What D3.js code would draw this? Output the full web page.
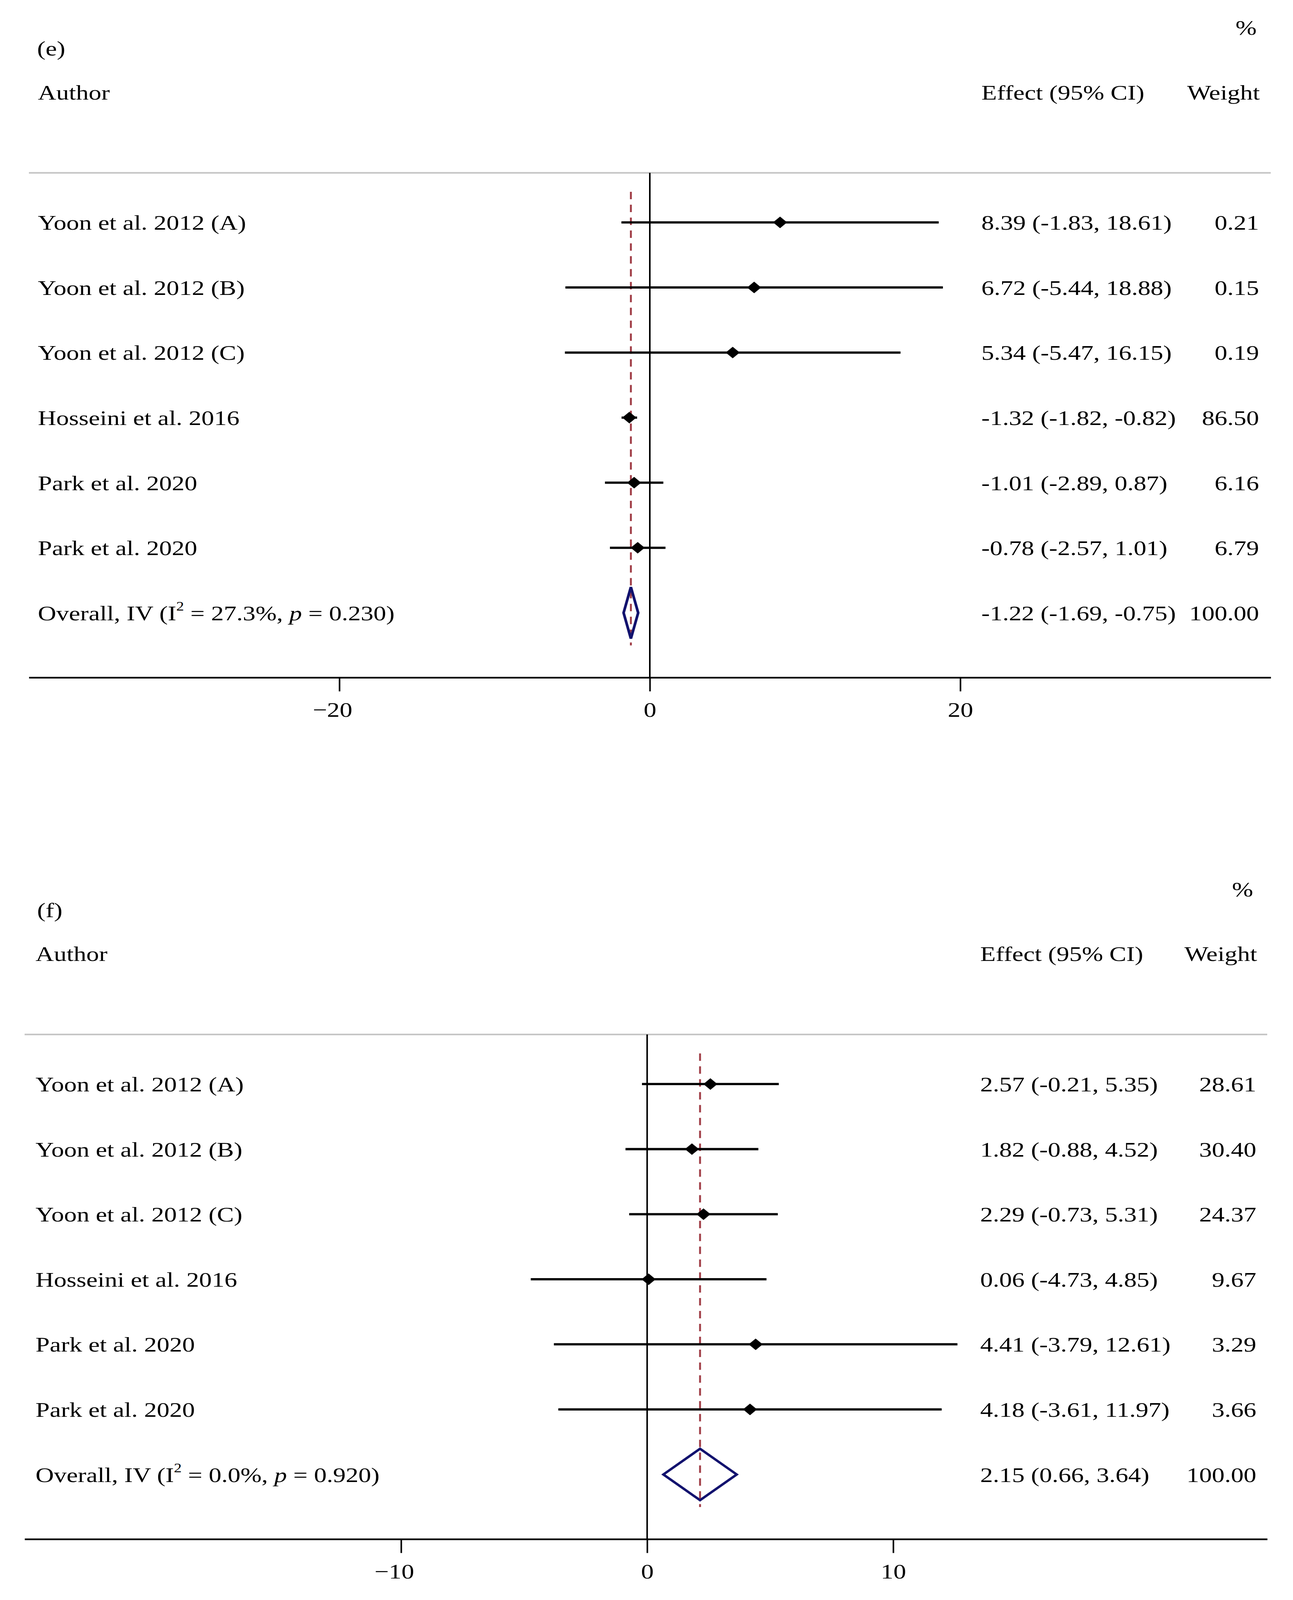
<!DOCTYPE html>
<html>
<head>
<meta charset="utf-8">
<script src="https://cdn.jsdelivr.net/npm/d3@7"></script>
<style>
  html, body { margin: 0; padding: 0; background: #fff; overflow: hidden; }
  svg { display: block; }
  text { font-family: "Liberation Serif", "Times New Roman", serif; fill: #000; }
</style>
</head>
<body>
<svg id="chart"></svg>
<script>
// ---------------- DATA ----------------
const authors = ["Yoon et al. 2012 (A)", "Yoon et al. 2012 (B)", "Yoon et al. 2012 (C)",
                 "Hosseini et al. 2016", "Park et al. 2020", "Park et al. 2020"];

// Panel (e)
const effectE = [8.39, 6.72, 5.34, -1.32, -1.01, -0.78];
const lowerE  = [-1.83, -5.44, -5.47, -1.82, -2.89, -2.57];
const upperE  = [18.61, 18.88, 16.15, -0.82, 0.87, 1.01];
const weightE = [0.21, 0.15, 0.19, 86.50, 6.16, 6.79];
const overallE = [-1.22, -1.69, -0.75];       // estimate, lower, upper
const overallWeightE = 100.00;
const heteroE = ["27.3%", "0.230"];           // I², p
const ticksE = [-20, 0, 20];

// Panel (f)
const effectF = [2.57, 1.82, 2.29, 0.06, 4.41, 4.18];
const lowerF  = [-0.21, -0.88, -0.73, -4.73, -3.79, -3.61];
const upperF  = [5.35, 4.52, 5.31, 4.85, 12.61, 11.97];
const weightF = [28.61, 30.40, 24.37, 9.67, 3.29, 3.66];
const overallF = [2.15, 0.66, 3.64];
const overallWeightF = 100.00;
const heteroF = ["0.0%", "0.920"];
const ticksF = [-10, 0, 10];

// ---------------- DRAW ----------------
const W = 3311, H = 4971;
const FS = 65;
const vw = window.innerWidth || W, vh = window.innerHeight || H;
const svg = d3.select("#chart").attr("width", vw).attr("height", vh)
  .attr("viewBox", `0 0 ${W} ${H}`).attr("preserveAspectRatio", "none");
svg.append("rect").attr("width", W).attr("height", H).attr("fill", "#fff");

const panels = [
  { tag: "(e)", off: 0, domain: [-40, 40], range: [74, 3254], textX: 97, effX: 2513, wRight: 3224, pctRight: 3218,
    eff: effectE, lo: lowerE, hi: upperE, w: weightE, ov: overallE, ovW: overallWeightE, het: heteroE, ticks: ticksE },
  { tag: "(f)", off: 2677, domain: [-25.3, 25.2], range: [63, 3245], textX: 91, effX: 2510, wRight: 3217, pctRight: 3209,
    eff: effectF, lo: lowerF, hi: upperF, w: weightF, ov: overallF, ovW: overallWeightF, het: heteroF, ticks: ticksF }
];

const dashColor = "#a3434c";
const navy = "#12126e";

panels.forEach(p => {
  const g = svg.append("g").attr("transform", `translate(0,${p.off})`);
  const x = d3.scaleLinear().domain(p.domain).range(p.range);
  const rowIdx = d3.range(authors.length + 1);
  const y = d3.scalePoint().domain(rowIdx).range([691, 1904]);
  const step = y.step();
  const lastY = y(authors.length);

  g.append("text").attr("x", p.pctRight).attr("y", 108).attr("text-anchor", "end")
    .attr("font-size", FS).text("%");
  g.append("text").attr("x", 95).attr("y", 172).attr("font-size", FS).text(p.tag);
  g.append("text").attr("x", p.textX).attr("y", 309).attr("font-size", FS).text("Author");
  g.append("text").attr("x", p.effX).attr("y", 309).attr("font-size", FS).text("Effect (95% CI)");
  g.append("text").attr("x", p.wRight + 2).attr("y", 309).attr("text-anchor", "end")
    .attr("font-size", FS).text("Weight");

  g.append("line").attr("x1", p.range[0]).attr("x2", p.range[1])
    .attr("y1", 537).attr("y2", 537).attr("stroke", "#c4c4c4").attr("stroke-width", 5);

  const axisY = 2105;
  const axis = d3.axisBottom(x).tickValues(p.ticks).tickSize(43).tickSizeOuter(0)
    .tickFormat(d => d < 0 ? "\u2212" + Math.abs(d) : String(d));
  const ag = g.append("g").attr("transform", `translate(0,${axisY})`).call(axis);
  ag.select(".domain").attr("stroke", "#000").attr("stroke-width", 5);
  ag.selectAll(".tick line").attr("stroke", "#000").attr("stroke-width", 4);
  ag.selectAll(".tick text")
    .attr("y", 122).attr("dy", null)
    .attr("dx", d => d < 0 ? -18 : 0)
    .attr("font-size", FS)
    .attr("font-family", '"Liberation Serif", "Times New Roman", serif')
    .attr("fill", "#000");

  g.append("line").attr("x1", x(0)).attr("x2", x(0))
    .attr("y1", 537).attr("y2", axisY).attr("stroke", "#000").attr("stroke-width", 4);

  g.append("line").attr("x1", x(p.ov[0])).attr("x2", x(p.ov[0]))
    .attr("y1", y(0) - step * 0.47).attr("y2", lastY + step * 0.5)
    .attr("stroke", dashColor).attr("stroke-width", 5).attr("stroke-dasharray", "23,17");

  authors.forEach((a, i) => {
    const yy = y(i);
    g.append("line").attr("x1", x(p.lo[i])).attr("x2", x(p.hi[i]))
      .attr("y1", yy).attr("y2", yy).attr("stroke", "#000").attr("stroke-width", 7);
    const cx = x(p.eff[i]), r = 18;
    g.append("path")
      .attr("d", `M${cx - r},${yy}L${cx},${yy - r}L${cx + r},${yy}L${cx},${yy + r}Z`)
      .attr("fill", "#000");
    g.append("text").attr("x", p.textX).attr("y", yy + 23).attr("font-size", FS).text(a);
    g.append("text").attr("x", p.effX).attr("y", yy + 23).attr("font-size", FS)
      .text(`${p.eff[i].toFixed(2)} (${p.lo[i].toFixed(2)}, ${p.hi[i].toFixed(2)})`);
    g.append("text").attr("x", p.wRight).attr("y", yy + 23).attr("text-anchor", "end")
      .attr("font-size", FS).text(p.w[i].toFixed(2));
  });

  const h = 80;
  const [est, lo, hi] = p.ov;
  g.append("path")
    .attr("d", `M${x(lo)},${lastY}L${x(est)},${lastY - h}L${x(hi)},${lastY}L${x(est)},${lastY + h}Z`)
    .attr("fill", "none").attr("stroke", navy).attr("stroke-width", 7).attr("stroke-linejoin", "miter");

  const ot = g.append("text").attr("x", p.textX).attr("y", lastY + 23).attr("font-size", FS);
  ot.append("tspan").text("Overall, IV (I");
  ot.append("tspan").attr("font-size", 40).attr("dy", -30).text("2");
  ot.append("tspan").attr("dy", 30).text(` = ${p.het[0]}, `);
  ot.append("tspan").attr("font-style", "italic").text("p");
  ot.append("tspan").text(` = ${p.het[1]})`);

  g.append("text").attr("x", p.effX).attr("y", lastY + 23).attr("font-size", FS)
    .text(`${est.toFixed(2)} (${lo.toFixed(2)}, ${hi.toFixed(2)})`);
  g.append("text").attr("x", p.wRight).attr("y", lastY + 23).attr("text-anchor", "end")
    .attr("font-size", FS).text(p.ovW.toFixed(2));
});
</script>
</body>
</html>
